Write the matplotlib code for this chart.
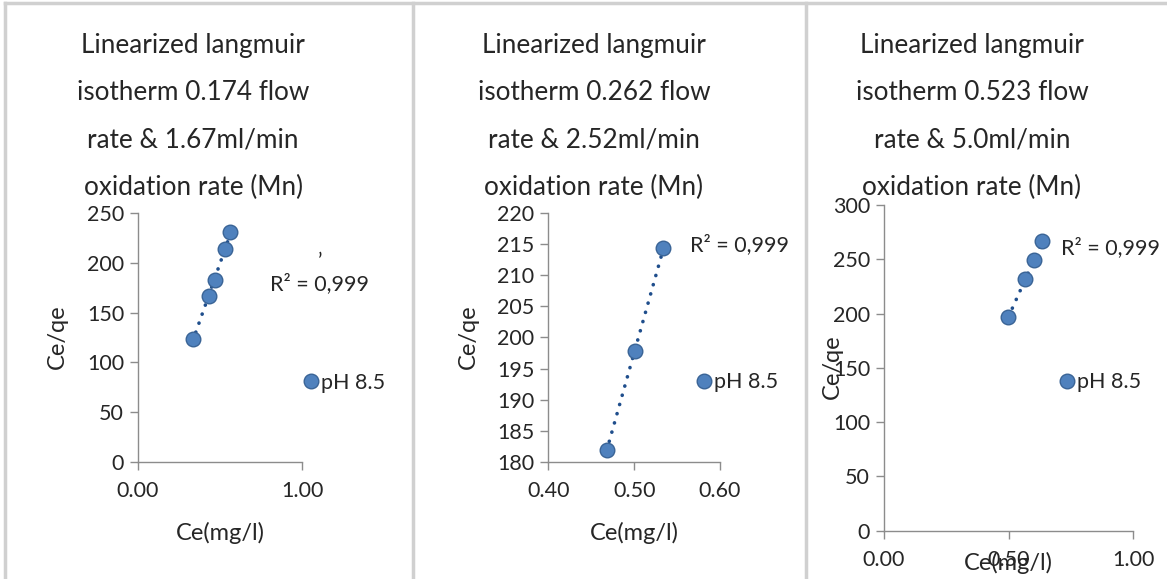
import numpy as np
import matplotlib
matplotlib.use("Agg")
import matplotlib.pyplot as plt
from matplotlib.lines import Line2D

plt.rcParams['font.family'] = ['Lato', 'DejaVu Sans']

# ---------------- data ----------------
titles = [
    ["Linearized langmuir", "isotherm 0.174 flow", "rate & 1.67ml/min", "oxidation rate (Mn)"],
    ["Linearized langmuir", "isotherm 0.262 flow", "rate & 2.52ml/min", "oxidation rate (Mn)"],
    ["Linearized langmuir", "isotherm 0.523 flow", "rate & 5.0ml/min", "oxidation rate (Mn)"],
]
x1 = [0.333, 0.433, 0.470, 0.533, 0.561]
y1 = [123.2, 166.8, 182.6, 214.4, 231.2]
x2 = [0.468, 0.501, 0.534]
y2 = [181.9, 197.8, 214.4]
x3 = [0.499, 0.567, 0.603, 0.635]
y3 = [197.1, 231.6, 249.4, 267.2]
series_label = "pH 8.5"
r2_text = "R² = 0,999"
xlabel = "Ce(mg/l)"
ylabel = "Ce/qe"
xticks = [[0.0, 1.0], [0.40, 0.50, 0.60], [0.0, 0.5, 1.0]]
yticks = [[0, 50, 100, 150, 200, 250],
          [180, 185, 190, 195, 200, 205, 210, 215, 220],
          [0, 50, 100, 150, 200, 250, 300]]
xlims = [(0, 1.0), (0.40, 0.60), (0, 1.0)]
ylims = [(0, 250), (180, 220), (0, 300)]

# ---------------- layout ----------------
W, H = 1167, 579
fig = plt.figure(figsize=(W / 100, H / 100), dpi=100)
fig.patch.set_facecolor("white")

def fx(px):
    return px / W

def fy(py):
    return 1 - py / H

# panel borders
border_col = "#d0d0d0"
for xb in [5, 413, 806]:
    fig.add_artist(Line2D([fx(xb), fx(xb)], [0, fy(3)], color=border_col, lw=2.5))
fig.add_artist(Line2D([fx(5), fx(1166)], [fy(3), fy(3)], color=border_col, lw=2.5))

# axes rects in pixels: left, right, top, bottom
rects = [(138, 302, 213.3, 461.7), (548.3, 720, 213.3, 461.7), (884, 1133.3, 205, 530.7)]
title_cx = [193, 594, 972]
title_ys = [45, 92, 140, 187]
ylabel_pos = [(57, 337), (468, 337), (832, 367)]
xlabel_pos = [(220, 533), (634, 533), (1008, 563)]
legend_pos = [(302, 382.7), (695, 382.3), (1058, 382.3)]
r2_pos = [(270, 284), (690, 245), (1061, 248)]

xs = [x1, x2, x3]
ys = [y1, y2, y3]

mcolor = "#4f81bd"
ecolor = "#3a6496"
axcol = "#8c8c8c"
txtcol = "#262626"

for i in range(3):
    l, r, t, b = rects[i]
    ax = fig.add_axes([fx(l), fy(b), fx(r) - fx(l), fy(t) - fy(b)])
    ax.set_facecolor("none")
    xd = np.array(xs[i])
    yd = np.array(ys[i])
    # linear trendline
    k, c = np.polyfit(xd, yd, 1)
    xt = np.array([xd.min(), xd.max()])
    ax.plot(xt, k * xt + c, linestyle=(0, (0.05, 2.6)), color="#1f4e8c", lw=2.6,
            dash_capstyle="round", zorder=2, clip_on=False)
    ax.plot(xd, yd, linestyle="none", marker="o", markersize=10.5,
            markerfacecolor=mcolor, markeredgecolor=ecolor, markeredgewidth=1.0,
            label=series_label, zorder=3, clip_on=False)
    ax.set_xlim(*xlims[i])
    ax.set_ylim(*ylims[i])
    ax.set_xticks(xticks[i])
    ax.set_xticklabels(["{:.2f}".format(v) for v in xticks[i]])
    ax.set_yticks(yticks[i])
    for s in ["top", "right"]:
        ax.spines[s].set_visible(False)
    for s in ["left", "bottom"]:
        ax.spines[s].set_color(axcol)
        ax.spines[s].set_linewidth(1.0)
    ax.tick_params(axis="both", direction="out", length=6, width=1.0, color=axcol,
                   labelsize=15.5, labelcolor=txtcol)
    ax.tick_params(axis="x", pad=8)
    ax.tick_params(axis="y", pad=4)

    for j, line in enumerate(titles[i]):
        fig.text(fx(title_cx[i]), fy(title_ys[j]), line, ha="center", va="center",
                 fontsize=18.8, color=txtcol)
    fig.text(fx(ylabel_pos[i][0]), fy(ylabel_pos[i][1]), ylabel, rotation=90,
             ha="center", va="center", fontsize=17, color=txtcol)
    fig.text(fx(xlabel_pos[i][0]), fy(xlabel_pos[i][1]), xlabel, ha="center",
             va="center", fontsize=17, color=txtcol)
    fig.text(fx(r2_pos[i][0]), fy(r2_pos[i][1]), r2_text, ha="left", va="center",
             fontsize=15.5, color=txtcol)
    ax.legend(loc="center left", bbox_to_anchor=(fx(legend_pos[i][0]), fy(legend_pos[i][1])),
              bbox_transform=fig.transFigure, frameon=False, fontsize=15.5,
              handlelength=0.8, handletextpad=0.1, borderaxespad=0, borderpad=0,
              labelcolor=txtcol)

# stray mark above the R² value in the first panel
fig.text(fx(320), fy(262), "ʼ", ha="center", va="center", fontsize=15, color=txtcol)

fig.savefig("out.png", dpi=100)
